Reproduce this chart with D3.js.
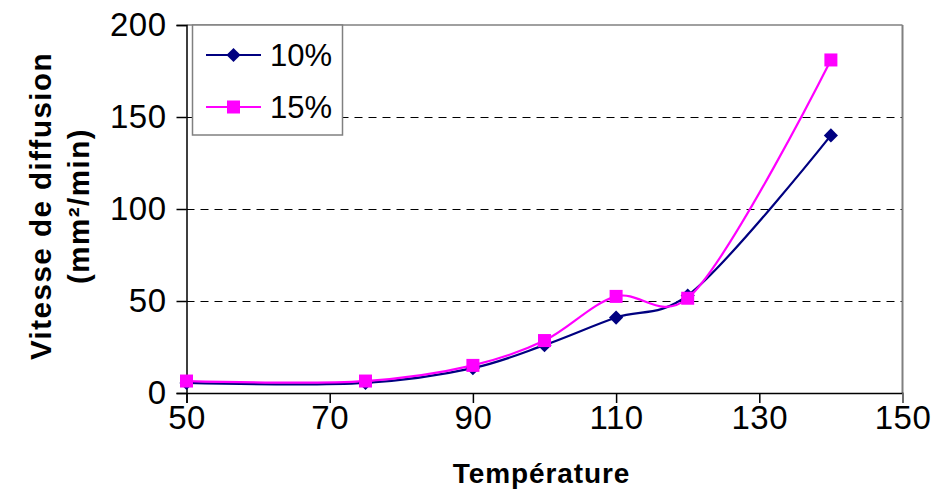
<!DOCTYPE html>
<html><head><meta charset="utf-8">
<script src="https://cdn.jsdelivr.net/npm/d3@7"></script>
<style>body{margin:0;background:#fff}svg{display:block}</style>
</head><body>
<svg id="c" width="933" height="490"></svg>
<script>
const temps = [50, 75, 90, 100, 110, 120, 140];
const s10 = [5.5, 5.5, 13.5, 26, 41, 53, 140];
const s15 = [6.5, 6.5, 15, 28.5, 52.5, 51.5, 181];
const seriesNames = ["10%", "15%"];
const xTicks = [50, 70, 90, 110, 130, 150];
const yTicks = [0, 50, 100, 150, 200];

const svg = d3.select("#c");
const L = 186.5, R = 902.5, T = 25, B = 393;
const x = d3.scaleLinear().domain([50,150]).range([L,R]);
const y = d3.scaleLinear().domain([0,200]).range([B,T]);
const font = "'Liberation Sans', Arial, sans-serif";

// gridlines
svg.append("g").selectAll("line").data([50,100,150]).join("line")
  .attr("x1", L).attr("x2", R).attr("y1", d=>Math.round(y(d))+0.5).attr("y2", d=>Math.round(y(d))+0.5)
  .attr("stroke","#000").attr("stroke-width",1).attr("stroke-dasharray","8,6");
// plot border
svg.append("line").attr("x1",L).attr("x2",R).attr("y1",T).attr("y2",T).attr("stroke","#808080").attr("stroke-width",1.5);
svg.append("line").attr("x1",R).attr("x2",R).attr("y1",T).attr("y2",B).attr("stroke","#808080").attr("stroke-width",2);

// axes
const yAxis = d3.axisLeft(y).tickValues(yTicks).tickSize(10).tickPadding(10);
const gy = svg.append("g").attr("transform",`translate(${L},0)`).call(yAxis);
const xAxis = d3.axisBottom(x).tickValues(xTicks).tickSize(10).tickPadding(3);
const gx = svg.append("g").attr("transform",`translate(0,${B})`).call(xAxis);
[gx, gy].forEach(g=>{
  g.select(".domain").attr("stroke","#000").attr("stroke-width",1.5);
  g.selectAll(".tick line").attr("stroke","#000").attr("stroke-width",1.5);
  g.selectAll("text").attr("font-family",font).attr("font-size",33).attr("letter-spacing",0.5).attr("fill","#000");
});
gx.selectAll(".tick").filter(d=>d===150).select("line").attr("stroke","#808080");

// lines
const line = d3.line().x((d,i)=>x(temps[i])).y(d=>y(d)).curve(d3.curveCatmullRom.alpha(0.25));
const cols = ["#000080","#FF00FF"];
[s10, s15].forEach((s,k)=>{
  svg.append("path").datum(s).attr("d",line).attr("fill","none").attr("stroke",cols[k]).attr("stroke-width",2.2);
});
// markers
const dia = d3.symbol().type(d3.symbolSquare).size(100)();
svg.append("g").selectAll("path").data(s10).join("path")
  .attr("d", dia).attr("transform",(d,i)=>`translate(${x(temps[i])},${y(d)}) rotate(45)`)
  .attr("fill",cols[0]);
svg.append("g").selectAll("rect").data(s15).join("rect")
  .attr("x",(d,i)=>x(temps[i])-6.5).attr("y",d=>y(d)-6.5).attr("width",13).attr("height",13)
  .attr("fill",cols[1]);

// legend
const lg = svg.append("g");
lg.append("rect").attr("x",192.5).attr("y",25).attr("width",150).attr("height",110)
  .attr("fill","#fff").attr("stroke","#808080").attr("stroke-width",1.5);
seriesNames.forEach((n,k)=>{
  const yy = 55 + k*52;
  lg.append("line").attr("x1",206).attr("x2",261).attr("y1",yy).attr("y2",yy).attr("stroke",cols[k]).attr("stroke-width",2.2);
  if(k===0) lg.append("path").attr("d", dia).attr("transform",`translate(233.5,${yy}) rotate(45)`).attr("fill",cols[0]);
  else lg.append("rect").attr("x",227).attr("y",yy-6.5).attr("width",13).attr("height",13).attr("fill",cols[1]);
  lg.append("text").attr("x",270).attr("y",yy+11).attr("font-family",font).attr("font-size",31).text(n);
});

// axis titles
svg.append("text").attr("x",(L+R)/2 - 3).attr("y",483).attr("text-anchor","middle")
  .attr("font-family",font).attr("font-weight","bold").attr("font-size",28).attr("letter-spacing",0.9).text("Température");
const yt = svg.append("text").attr("transform","translate(0,206) rotate(-90)").attr("text-anchor","middle")
  .attr("font-family",font).attr("font-weight","bold").attr("font-size",29.5).attr("letter-spacing",1.5);
yt.append("tspan").attr("x",0).attr("y",51).text("Vitesse de diffusion");
yt.append("tspan").attr("x",0).attr("y",89).text("(mm²/min)");
</script>
</body></html>
